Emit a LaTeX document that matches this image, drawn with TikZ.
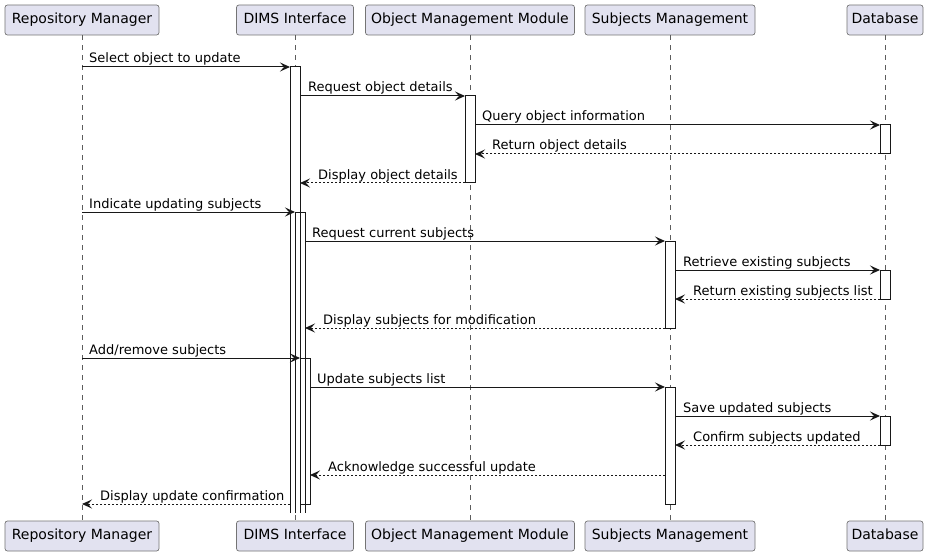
\documentclass[tikz,border=0pt]{standalone}
\usepackage{fontspec}
\setmainfont{DejaVu Sans}
\usetikzlibrary{arrows.meta}
\definecolor{ink}{HTML}{181818}
\definecolor{partfill}{HTML}{E2E2F0}
\begin{document}
\begin{tikzpicture}[x=1pt,y=-1pt,
  part/.style={draw=ink!60, line width=0.7pt, fill=partfill, rounded corners=2.5pt,
    minimum height=30pt, inner sep=0pt, font=\fontsize{14}{16}\selectfont,
    text height=10.2pt, text depth=3.3pt},
  life/.style={draw=ink!70, line width=0.6pt, dash pattern=on 5pt off 5pt},
  barfill/.style={fill=white},
  barline/.style={draw=ink, line width=1pt},
  msg/.style={draw=ink, line width=1pt, -{Stealth[length=10pt,width=9pt,inset=4pt]}},
  ret/.style={msg, dash pattern=on 2pt off 2pt},
  lbl/.style={anchor=base west, inner sep=0pt, font=\fontsize{13}{15}\selectfont, text=black}]
\useasboundingbox[fill=white] (0,0) rectangle (931,556);

% participants (top)
\node[part, minimum width=154pt] (rm)   at (82,20)  {Repository Manager};
\node[part, minimum width=117pt] (dims) at (295,20) {DIMS Interface};
\node[part, minimum width=209pt] (omm)  at (470,20) {Object Management Module};
\node[part, minimum width=170pt] (sm)   at (670,20) {Subjects Management};
\node[part, minimum width=76pt]  (db)   at (885,20) {Database};
% participants (bottom)
\node[part, minimum width=154pt] (rmB)   at (82,536)  {Repository Manager};
\node[part, minimum width=117pt] (dimsB) at (295,536) {DIMS Interface};
\node[part, minimum width=209pt] (ommB)  at (470,536) {Object Management Module};
\node[part, minimum width=170pt] (smB)   at (670,536) {Subjects Management};
\node[part, minimum width=76pt]  (dbB)   at (885,536) {Database};

% lifelines
\draw[life] (rm.south) -- (rmB.north);
\draw[life] (dims.south) -- (dimsB.north);
\draw[life] (omm.south) -- (ommB.north);
\draw[life] (sm.south) -- (smB.north);
\draw[life] (db.south) -- (dbB.north);

% activation bar fills
\path[barfill] (290,67) rectangle (300,513);
\path[barfill] (295,212) rectangle (305,513);
\path[barfill] (300,358) rectangle (310,504);
\path[barfill] (465,96) rectangle (475,183);
\path[barfill] (880,125) rectangle (890,154);
\path[barfill] (665,241) rectangle (675,328);
\path[barfill] (880,270) rectangle (890,299);
\path[barfill] (665,387) rectangle (675,504);
\path[barfill] (880,416) rectangle (890,445);
% activation bar outlines
\draw[barline] (290,513) -- (290,67) -- (300,67) -- (300,513);
\draw[barline] (295,513) -- (295,212) -- (305,212) -- (305,513);
\draw[barline] (300,358) rectangle (310,504);
\draw[barline] (465,96) rectangle (475,183);
\draw[barline] (880,125) rectangle (890,154);
\draw[barline] (665,241) rectangle (675,328);
\draw[barline] (880,270) rectangle (890,299);
\draw[barline] (665,387) rectangle (675,504);
\draw[barline] (880,416) rectangle (890,445);

% message end points
\coordinate (a1) at (82,67);   \coordinate (b1) at (290,67);
\coordinate (a2) at (300,96);  \coordinate (b2) at (465,96);
\coordinate (a3) at (475,125); \coordinate (b3) at (880,125);
\coordinate (a4) at (880,154); \coordinate (b4) at (475,154);
\coordinate (a5) at (465,183); \coordinate (b5) at (300,183);
\coordinate (a6) at (82,212);  \coordinate (b6) at (295,212);
\coordinate (a7) at (305,241); \coordinate (b7) at (665,241);
\coordinate (a8) at (675,270); \coordinate (b8) at (880,270);
\coordinate (a9) at (880,299); \coordinate (b9) at (675,299);
\coordinate (a10) at (665,328); \coordinate (b10) at (305,328);
\coordinate (a11) at (82,358);  \coordinate (b11) at (300,358);
\coordinate (a12) at (310,387); \coordinate (b12) at (665,387);
\coordinate (a13) at (675,416); \coordinate (b13) at (880,416);
\coordinate (a14) at (880,445); \coordinate (b14) at (675,445);
\coordinate (a15) at (665,475); \coordinate (b15) at (310,475);
\coordinate (a16) at (290,504); \coordinate (b16) at (82,504);

% messages
\draw[msg] (a1) -- (b1);
\node[lbl] (t1) at (89,63) {Select object to update};
\draw[msg] (a2) -- (b2);
\node[lbl] (t2) at (308,92) {Request object details};
\draw[msg] (a3) -- (b3);
\node[lbl] (t3) at (482,121) {Query object information};
\draw[ret] (a4) -- (b4);
\node[lbl] (t4) at (492,150) {Return object details};
\draw[ret] (a5) -- (b5);
\node[lbl] (t5) at (318,179) {Display object details};
\draw[msg] (a6) -- (b6);
\node[lbl] (t6) at (89,208) {Indicate updating subjects};
\draw[msg] (a7) -- (b7);
\node[lbl] (t7) at (312,237) {Request current subjects};
\draw[msg] (a8) -- (b8);
\node[lbl] (t8) at (683,266) {Retrieve existing subjects};
\draw[ret] (a9) -- (b9);
\node[lbl] (t9) at (693,295) {Return existing subjects list};
\draw[ret] (a10) -- (b10);
\node[lbl] (t10) at (323,324) {Display subjects for modification};
\draw[msg] (a11) -- (b11);
\node[lbl] (t11) at (89,354) {Add/remove subjects};
\draw[msg] (a12) -- (b12);
\node[lbl] (t12) at (317,383) {Update subjects list};
\draw[msg] (a13) -- (b13);
\node[lbl] (t13) at (683,412) {Save updated subjects};
\draw[ret] (a14) -- (b14);
\node[lbl] (t14) at (693,441) {Confirm subjects updated};
\draw[ret] (a15) -- (b15);
\node[lbl] (t15) at (328,471) {Acknowledge successful update};
\draw[ret] (a16) -- (b16);
\node[lbl] (t16) at (100,500) {Display update confirmation};
\end{tikzpicture}
\end{document}
